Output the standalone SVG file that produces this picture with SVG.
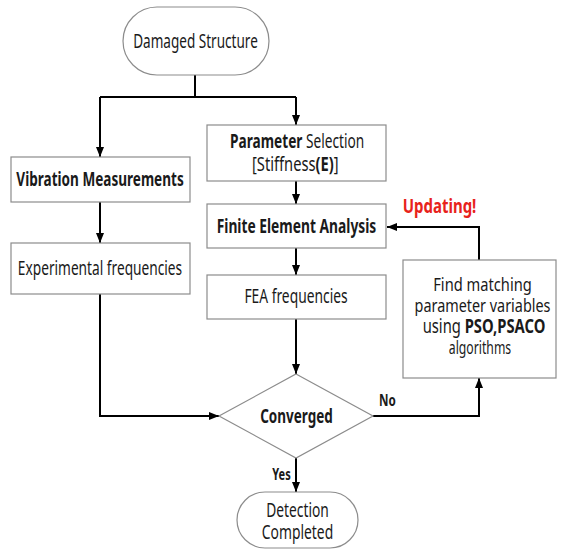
<svg xmlns="http://www.w3.org/2000/svg" width="561" height="551" viewBox="0 0 561 551">
<style>
.box{fill:#fff;stroke:#8c8c8c;stroke-width:1.2}
.t{font-family:"Noto Sans","Liberation Sans",sans-serif;font-size:20px;fill:#1a1a1a;text-anchor:middle}
.m{font-size:19px}
.s{text-anchor:start}
.b{font-weight:bold}
.c{fill:none;stroke:#000;stroke-width:2}
</style>
<defs>
<marker id="ah" markerUnits="userSpaceOnUse" markerWidth="10" markerHeight="8" viewBox="0 0 10 8" refX="10" refY="4" orient="auto">
<path d="M0,0 L10,4 L0,8 z" fill="#000"/>
</marker>
</defs>
<rect width="561" height="551" fill="#fff"/>
<g id="connectors">
<path class="c" d="M195,75 V97"/>
<path class="c" d="M100,97 H296"/>
<path class="c" d="M100,97 V157" marker-end="url(#ah)"/>
<path class="c" d="M296,97 V125" marker-end="url(#ah)"/>
<path class="c" d="M100,202 V243" marker-end="url(#ah)"/>
<path class="c" d="M296,181 V204" marker-end="url(#ah)"/>
<path class="c" d="M296,248 V275" marker-end="url(#ah)"/>
<path class="c" d="M296,319 V374" marker-end="url(#ah)"/>
<path class="c" d="M100,294 V416 H219" marker-end="url(#ah)"/>
<path class="c" d="M373,416 H479 V378" marker-end="url(#ah)"/>
<path class="c" d="M479,260 V227 H387" marker-end="url(#ah)"/>
<path class="c" d="M296,458 V492" marker-end="url(#ah)"/>
<text class="t b" transform="translate(387.5,406) scale(0.73,1)" style="font-size:16px">No</text>
<text class="t b" transform="translate(281.5,480) scale(0.69,1)" style="font-size:16px">Yes</text>
<text class="t b" transform="translate(439.5,213) scale(0.75,1)" style="fill:#e8221b">Updating!</text>
</g>
<g id="damaged">
<rect class="box" x="123" y="7" width="146" height="68" rx="34" ry="34"/>
<text class="t" transform="translate(195.5,48) scale(0.678,1)">Damaged Structure</text>
</g>
<g id="vibration">
<rect class="box" x="11" y="157" width="179" height="45"/>
<text class="t b" transform="translate(100,186) scale(0.678,1)">Vibration Measurements</text>
</g>
<g id="experimental">
<rect class="box" x="11" y="243" width="179" height="51"/>
<text class="t" transform="translate(100,274.5) scale(0.686,1)">Experimental frequencies</text>
</g>
<g id="parameter">
<rect class="box" x="207" y="125" width="179" height="56"/>
<text class="t s" transform="translate(230,148) scale(0.684,1)"><tspan class="b">Parameter</tspan> Selection</text>
<text class="t s" transform="translate(252,171) scale(0.735,1)">[Stiffness<tspan class="b">(E)</tspan>]</text>
</g>
<g id="fea">
<rect class="box" x="207" y="204" width="179" height="44"/>
<text class="t b" transform="translate(296.5,232.5) scale(0.69,1)">Finite Element Analysis</text>
</g>
<g id="feafreq">
<rect class="box" x="207" y="275" width="179" height="44"/>
<text class="t" transform="translate(296,303) scale(0.691,1)">FEA frequencies</text>
</g>
<g id="matching">
<rect class="box" x="403" y="260" width="153" height="118"/>
<text class="t m" transform="translate(482.5,291) scale(0.772,1)">Find matching</text>
<text class="t m" transform="translate(482.5,312) scale(0.758,1)">parameter variables</text>
<text class="t m" transform="translate(484,333) scale(0.777,1)">using <tspan class="b">PSO,PSACO</tspan></text>
<text class="t m" transform="translate(480,354) scale(0.644,1)">algorithms</text>
</g>
<g id="converged">
<polygon class="box" points="296,374 373,416 296,458 219,416"/>
<text class="t b" transform="translate(296.5,422.5) scale(0.675,1)">Converged</text>
</g>
<g id="detection">
<rect class="box" x="237" y="492" width="121" height="56" rx="28" ry="28"/>
<text class="t" transform="translate(297.5,517) scale(0.69,1)">Detection</text>
<text class="t" transform="translate(297.5,539) scale(0.693,1)">Completed</text>
</g>
</svg>
